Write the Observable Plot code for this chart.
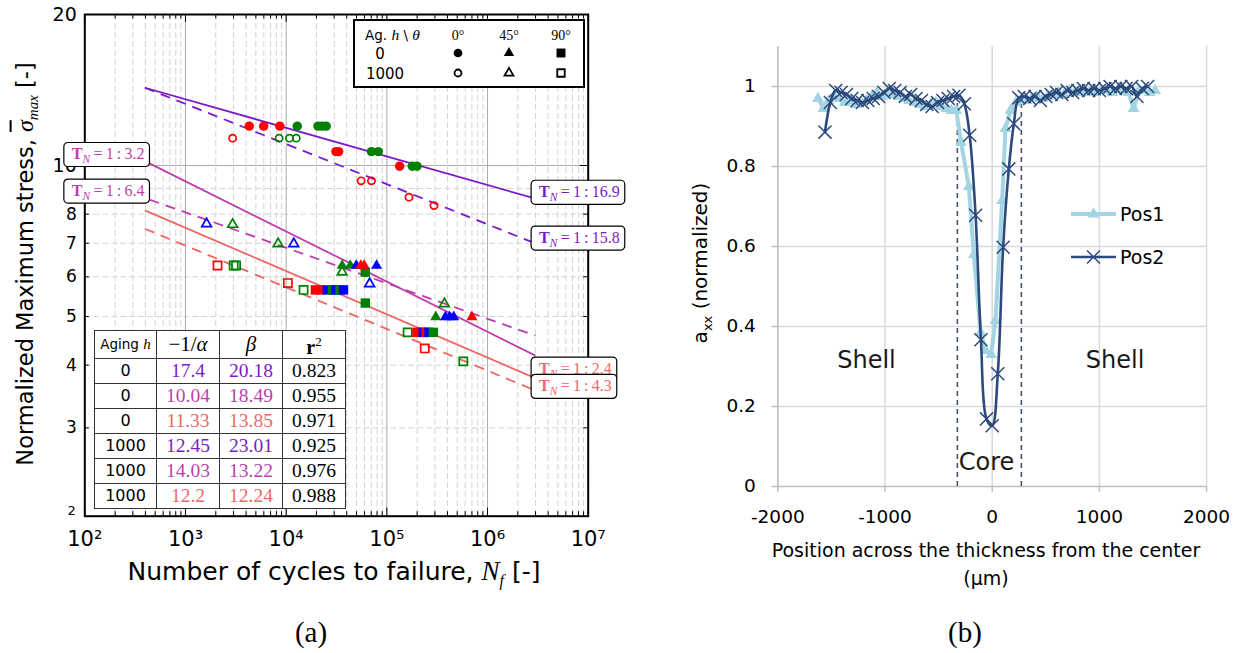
<!DOCTYPE html>
<html>
<head>
<meta charset="utf-8">
<script src="https://cdn.jsdelivr.net/npm/d3@7"></script>
<script src="https://cdn.jsdelivr.net/npm/@observablehq/plot@0.6"></script>
<style>
html,body{margin:0;padding:0;background:#fff;}
#root{position:relative;width:1242px;height:653px;overflow:hidden;font-family:"DejaVu Sans",sans-serif;color:#000;}
.abs{position:absolute;}
.serif{font-family:"Liberation Serif","DejaVu Serif",serif;}
#tbl{border-collapse:collapse;table-layout:fixed;background:#fff;}
#tbl td{border:1px solid #333;padding:0;text-align:center;height:24.1px;line-height:22px;overflow:hidden;white-space:nowrap;}
.lbl{position:absolute;white-space:nowrap;transform:translate(-50%,-50%);}
</style>
</head>
<body>
<div id="root"></div>
<script>
const root = document.getElementById("root");

// ---------------- colours ----------------
const PURPLE = "#7a1acb", MAGENTA = "#bd3fae", SALMON = "#ef6767";
const dotColors = {red: "#ff0000", green: "#008000", blue: "#0000ff"};

// ---------------- panel (a) data ----------------
const cycleTicks = [1e2, 1e3, 1e4, 1e5, 1e6, 1e7];
const cycleTickLabels = ["10²", "10³", "10⁴", "10⁵", "10⁶", "10⁷"];
const stressTicksLarge = [20, 10];
const stressTicksMedium = [8, 7, 6, 5, 4, 3];
const stressTicksSmall = [2];

// experimental points (cycles to failure, normalized max stress)
const pointN = [
  // open squares (1000 h, 90°)
  2080, 3010, 3180, 10400, 14900, 161000, 238000, 575000,
  // filled squares (0 h, 90°)
  19500, 22000, 25600, 28900, 31200, 34300, 37100, 61000, 61100, 199000, 215000, 230000, 245000, 262000, 290000,
  // open triangles (1000 h, 45°)
  1620, 2940, 8310, 11900, 36000, 67500, 373000,
  // filled triangles (0 h, 45°)
  36000, 43300, 49700, 55100, 59600, 79100, 306000, 382000, 420000, 462000, 700000,
  // open circles (1000 h, 0°)
  2940, 8510, 10800, 12600, 55500, 70300, 166000, 294000,
  // filled circles (0 h, 0°)
  4300, 5980, 8650, 12900, 20700, 22700, 25000, 31200, 33200, 70300, 82200, 134000, 179000, 199000
];
const pointStress = [
  6.32, 6.32, 6.32, 5.83, 5.65, 4.65, 4.32, 4.07,
  5.65, 5.65, 5.65, 5.65, 5.65, 5.65, 5.65, 6.13, 5.32, 4.65, 4.65, 4.65, 4.65, 4.65, 4.65,
  7.65, 7.63, 6.98, 6.98, 6.13, 5.81, 5.30,
  6.32, 6.32, 6.32, 6.32, 6.32, 6.32, 4.99, 4.99, 4.99, 4.99, 4.99,
  11.34, 11.34, 11.34, 11.34, 9.32, 9.32, 8.65, 8.32,
  11.98, 11.98, 11.98, 11.98, 11.98, 11.98, 11.98, 10.66, 10.66, 10.66, 10.66, 9.97, 9.97, 9.97
];
const pointColor = [
  "red", "green", "green", "red", "green", "green", "red", "green",
  "red", "red", "blue", "green", "blue", "green", "blue", "green", "green", "red", "red", "blue", "red", "blue", "green",
  "blue", "green", "green", "blue", "green", "blue", "green",
  "green", "green", "blue", "red", "red", "blue", "green", "blue", "blue", "blue", "red",
  "red", "green", "green", "green", "red", "red", "red", "red",
  "red", "red", "red", "green", "green", "green", "green", "red", "red", "green", "green", "red", "green", "green"
];
const pointShape = [].concat(
  Array(8).fill("square"), Array(15).fill("square"),
  Array(7).fill("triangle"), Array(11).fill("triangle"),
  Array(8).fill("circle"), Array(14).fill("circle")
);
const pointAging = [].concat(
  Array(8).fill(1000), Array(15).fill(0),
  Array(7).fill(1000), Array(11).fill(0),
  Array(8).fill(1000), Array(14).fill(0)
);

// fitted Basquin lines (end points)
const fitN1 = [395, 439, 395, 395, 439, 395];
const fitS1 = [14.29, 10.1, 8.14, 14.29, 8.55, 7.48];
const fitN2 = [2.71e6, 2.99e6, 2.71e6, 2.71e6, 2.99e6, 2.71e6];
const fitS2 = [8.64, 4.18, 3.8, 7.05, 4.58, 3.59];
const fitColor = [PURPLE, MAGENTA, SALMON, PURPLE, MAGENTA, SALMON];
const fitAging = [0, 0, 0, 1000, 1000, 1000];

// T_N annotation boxes
const labelText = ["1 : 3.2", "1 : 6.4", "1 : 16.9", "1 : 15.8", "1 : 2.4", "1 : 4.3"];
const labelN = [439, 439, 2.71e6, 2.71e6, 2.71e6, 2.71e6];
const labelS = [10.55, 8.92, 8.87, 7.19, 3.94, 3.64];
const labelColor = [MAGENTA, MAGENTA, PURPLE, PURPLE, SALMON, SALMON];
const labelSide = ["left", "left", "right", "right", "right", "right"];

// inset table
const tableHeader = ["Aging", "−1/α", "β", "r"];
const tableAging = ["0", "0", "0", "1000", "1000", "1000"];
const tableAlpha = ["17.4", "10.04", "11.33", "12.45", "14.03", "12.2"];
const tableBeta = ["20.18", "18.49", "13.85", "23.01", "13.22", "12.24"];
const tableR2 = ["0.823", "0.955", "0.971", "0.925", "0.976", "0.988"];
const tableColor = [PURPLE, MAGENTA, SALMON, PURPLE, MAGENTA, SALMON];

// marker legend
const legendAngles = ["0°", "45°", "90°"];
const legendAgingRows = ["0", "1000"];
const legendShapes = ["circle", "triangle", "square"];

// ---------------- panel (b) data ----------------
const posTicks = [-2000, -1000, 0, 1000, 2000];
const axxTicks = [0, 0.2, 0.4, 0.6, 0.8, 1];
const axxTickLabels = ["0", "0.2", "0.4", "0.6", "0.8", "1"];

const pos1X = [-1625,-1575,-1525,-1475,-1425,-1375,-1325,-1275,-1225,-1175,-1125,-1075,-1025,-975,-925,-875,-825,-775,-725,-675,-625,-575,-525,-475,-425,
  -380,-335,-290,-218,-171,-109,-60,-10,31,93,124,170,
  220,270,320,370,420,470,520,570,620,670,720,770,820,870,920,970,1020,1070,1120,1170,1220,1270,1320,1370,1420,1470,1520];
const pos1Y = [0.97,0.945,0.965,0.975,0.97,0.96,0.965,0.955,0.96,0.965,0.975,0.985,0.975,0.985,0.98,0.975,0.97,0.965,0.96,0.955,0.95,0.955,0.96,0.95,0.945,
  0.94,0.94,0.86,0.75,0.58,0.385,0.34,0.33,0.415,0.715,0.895,0.94,
  0.96,0.965,0.965,0.97,0.975,0.97,0.975,0.98,0.985,0.98,0.99,0.985,0.99,0.985,0.99,0.985,0.99,0.99,0.985,0.99,0.99,0.985,0.945,0.99,0.99,0.985,0.99];

const pos2X = [-1560,-1510,-1460,-1410,-1360,-1310,-1260,-1210,-1160,-1110,-1060,-1010,-960,-910,-860,-810,-760,-710,-660,-610,-560,-510,-460,-410,-360,-310,-260,-210,
  -155,-105,-53,0,52,102,155,202,248,
  300,350,400,450,500,550,600,650,700,750,800,850,900,950,1000,1050,1100,1150,1200,1250,1300,1350,1400,1450];
const pos2Y = [0.886,0.96,0.99,0.985,0.98,0.97,0.965,0.96,0.965,0.97,0.975,0.985,0.995,0.99,0.985,0.975,0.98,0.97,0.965,0.955,0.95,0.96,0.965,0.97,0.975,0.978,0.957,0.878,
  0.678,0.367,0.169,0.152,0.282,0.598,0.794,0.907,0.972,
  0.975,0.97,0.975,0.965,0.975,0.98,0.985,0.98,0.99,0.985,0.99,0.995,0.99,0.995,0.99,0.995,1.0,0.995,1.0,0.995,1.0,0.975,0.995,1.0];

const coreBounds = [-325, 272];
const coreTop = 0.975;
const regionText = ["Shell", "Shell", "Core"];
const regionX = [-1173, 1146, -53];
const regionY = [0.315, 0.315, 0.06];

// ================= PANEL (a) =================
const WA = 625, HA = 600;
const mLA = 84.3, mRA = WA - 587.7, mTA = 14, mBA = HA - 515.7;
const plotWA = WA - mLA - mRA, plotHA = HA - mTA - mBA;

const points = pointN.map((N, i) => ({N, S: pointStress[i], color: dotColors[pointColor[i]], shape: pointShape[i], aging: pointAging[i]}));
const sel = (shape, aging) => points.filter(p => p.shape === shape && p.aging === aging);
const fits = fitN1.map((n, i) => ({x1: n, y1: fitS1[i], x2: fitN2[i], y2: fitS2[i], color: fitColor[i], aging: fitAging[i]}));
const labels = labelText.map((t, i) => ({t, N: labelN[i], S: labelS[i], color: labelColor[i], side: labelSide[i]}));

const isDecade = v => Math.abs(Math.log10(v) - Math.round(Math.log10(v))) < 1e-9;
const allCycle = d3.scaleLog().domain([1e2, 1e7]).ticks();
const minorCycle = allCycle.filter(v => !isDecade(v));
const majorCycleInner = cycleTicks.slice(1, -1);
const minorStress = d3.scaleLog().domain([2, 20]).ticks().filter(v => v > 2 && v < 10);
const majorStress = [10];

const tickLenMaj = 8, tickLenMin = 4.5;

const chartA = Plot.plot({
  width: WA, height: HA,
  marginLeft: mLA, marginRight: mRA, marginTop: mTA, marginBottom: mBA,
  x: {type: "log", domain: [1e2, 1e7]},
  y: {type: "log", domain: [2, 20]},
  color: {type: "identity"},
  style: {fontFamily: "DejaVu Sans", fontSize: "16px", background: "transparent", color: "#000", overflow: "visible"},
  marks: [
    Plot.ruleX(minorCycle, {stroke: "#d4d4d4", strokeDasharray: "6,3", strokeWidth: 1}),
    Plot.ruleY(minorStress, {stroke: "#d4d4d4", strokeDasharray: "6,3", strokeWidth: 1}),
    Plot.ruleX(majorCycleInner, {stroke: "#ababab", strokeWidth: 1}),
    Plot.ruleY(majorStress, {stroke: "#ababab", strokeWidth: 1}),
    Plot.link(fits.filter(f => f.aging === 0), {x1: "x1", y1: "y1", x2: "x2", y2: "y2", stroke: "color", strokeWidth: 1.8}),
    Plot.link(fits.filter(f => f.aging === 1000), {x1: "x1", y1: "y1", x2: "x2", y2: "y2", stroke: "color", strokeWidth: 1.8, strokeDasharray: "10,7"}),
    Plot.dot(sel("square", 1000), {x: "N", y: "S", symbol: "square", r: 4.6, stroke: "color", fill: "none", strokeWidth: 1.7}),
    Plot.dot(sel("square", 0), {x: "N", y: "S", symbol: "square", r: 5.3, fill: "color", stroke: "none"}),
    Plot.dot(sel("triangle", 1000), {x: "N", y: "S", symbol: "triangle", r: 3.6, stroke: "color", fill: "none", strokeWidth: 1.7}),
    Plot.dot(sel("triangle", 0), {x: "N", y: "S", symbol: "triangle", r: 4.1, fill: "color", stroke: "none"}),
    Plot.dot(sel("circle", 1000), {x: "N", y: "S", symbol: "circle", r: 3.6, stroke: "color", fill: "none", strokeWidth: 1.7}),
    Plot.dot(sel("circle", 0), {x: "N", y: "S", symbol: "circle", r: 4.7, fill: "color", stroke: "none"}),
    // inward ticks on all four sides
    Plot.tickX(cycleTicks, {x: d => d, insetTop: plotHA - tickLenMaj, stroke: "#000"}),
    Plot.tickX(minorCycle, {x: d => d, insetTop: plotHA - tickLenMin, stroke: "#000"}),
    Plot.tickX(cycleTicks, {x: d => d, insetBottom: plotHA - tickLenMaj, stroke: "#000"}),
    Plot.tickX(minorCycle, {x: d => d, insetBottom: plotHA - tickLenMin, stroke: "#000"}),
    Plot.tickY(majorStress, {y: d => d, insetRight: plotWA - tickLenMaj, stroke: "#000"}),
    Plot.tickY(minorStress, {y: d => d, insetRight: plotWA - tickLenMin, stroke: "#000"}),
    Plot.tickY(majorStress, {y: d => d, insetLeft: plotWA - tickLenMaj, stroke: "#000"}),
    Plot.tickY(minorStress, {y: d => d, insetLeft: plotWA - tickLenMin, stroke: "#000"}),
    Plot.frame({stroke: "#000", strokeWidth: 2}),
    Plot.axisX({ticks: cycleTicks, tickFormat: d => cycleTickLabels[cycleTicks.indexOf(d)], tickSize: 0, tickPadding: 15, fontSize: 21, label: null}),
    Plot.axisY({ticks: stressTicksLarge, tickFormat: d => String(d), tickSize: 0, tickPadding: 8, fontSize: 19, label: null}),
    Plot.axisY({ticks: stressTicksMedium, tickFormat: d => String(d), tickSize: 0, tickPadding: 8, fontSize: 17, label: null}),
    Plot.axisY({ticks: stressTicksSmall, tickFormat: d => String(d), tickSize: 0, tickPadding: 9, fontSize: 13, dy: -5, label: null}),
    Plot.text(labels.filter(l => l.side === "left"), {x: "N", y: "S", text: "t", fill: "color", textAnchor: "end", dx: -5, fontSize: 16, fontFamily: "Liberation Serif"}),
    Plot.text(labels.filter(l => l.side === "right"), {x: "N", y: "S", text: "t", fill: "color", textAnchor: "start", dx: 8, fontSize: 16, fontFamily: "Liberation Serif"})
  ]
});
chartA.style.position = "absolute";
chartA.style.left = "0px";
chartA.style.top = "0px";
root.appendChild(chartA);

// turn "1 : x" into "T_N = 1 : x" and put rounded boxes behind
const labelSet = new Set(labelText);
Array.from(chartA.querySelectorAll("text")).filter(el => labelSet.has(el.textContent)).forEach(el => {
  const txt = el.textContent;
  const side = labelSide[labelText.indexOf(txt)];
  const t = d3.select(el);
  t.text("");
  t.append("tspan").attr("font-weight", "bold").text("T");
  t.append("tspan").attr("font-style", "italic").attr("font-size", "0.72em").attr("dy", "0.35em").text("N");
  t.append("tspan").attr("dy", "-0.25em").text("\u2009=\u2009" + txt.replace(/ : /, "\u2009:\u2009"));
  const bb = el.getBBox();
  const isEnd = side === "left";
  const padNear = isEnd ? 5 : 8, padFar = isEnd ? 8 : 5;
  const rect = document.createElementNS("http://www.w3.org/2000/svg", "rect");
  const x0 = isEnd ? bb.x - padFar : bb.x - padNear;
  rect.setAttribute("x", x0);
  rect.setAttribute("y", bb.y - 2.5);
  rect.setAttribute("width", bb.width + padNear + padFar);
  rect.setAttribute("height", bb.height + 4);
  rect.setAttribute("rx", 4);
  rect.setAttribute("fill", "#fff");
  rect.setAttribute("stroke", "#000");
  rect.setAttribute("stroke-width", 1.2);
  if (el.getAttribute("transform")) rect.setAttribute("transform", el.getAttribute("transform"));
  el.parentNode.insertBefore(rect, el);
});

// axis titles and caption of panel (a)
root.insertAdjacentHTML("beforeend",
  `<div class="lbl" style="left:27px;top:264px;font-size:22.5px;transform:translate(-50%,-50%) rotate(-90deg);">Normalized Maximum stress, <span class="serif" style="font-style:italic;font-size:24px;"><span style="text-decoration:overline;">σ</span><sub style="font-size:15px;">max</sub></span> [-]</div>
   <div class="lbl" style="left:334px;top:573px;font-size:25px;">Number of cycles to failure, <span class="serif" style="font-style:italic;font-size:27px;">N<sub style="font-size:16px;">f</sub></span> [-]</div>
   <div class="lbl serif" style="left:311px;top:632px;font-size:29px;">(a)</div>`);

// marker legend of panel (a)
{
  const lg = d3.create("svg").attr("width", 234).attr("height", 70)
    .style("position", "absolute").style("left", "353px").style("top", "19px");
  lg.append("rect").attr("x", 1).attr("y", 1).attr("width", 230).attr("height", 67)
    .attr("fill", "#fff").attr("stroke", "#000").attr("stroke-width", 2);
  const hdr = lg.append("text").attr("x", 12).attr("y", 21).attr("font-size", 13.5).attr("font-family", "DejaVu Sans");
  hdr.append("tspan").text("Ag. ");
  hdr.append("tspan").attr("font-family", "Liberation Serif").attr("font-style", "italic").attr("font-size", 15.5).text("h");
  hdr.append("tspan").text(" \\ ");
  hdr.append("tspan").attr("font-family", "Liberation Serif").attr("font-style", "italic").attr("font-size", 15.5).text("θ");
  const colX = [105, 156, 208];
  legendAngles.forEach((a, i) => lg.append("text").attr("x", colX[i]).attr("y", 21).attr("text-anchor", "middle")
    .attr("font-family", "Liberation Serif").attr("font-size", 14).text(a));
  const rowY = [34, 54];
  legendAgingRows.forEach((r, j) => lg.append("text").attr("x", j === 0 ? 27 : 32).attr("y", rowY[j] + 5.5)
    .attr("text-anchor", "middle").attr("font-family", "DejaVu Sans").attr("font-size", 15).text(r));
  const symType = {circle: d3.symbolCircle, triangle: d3.symbolTriangle, square: d3.symbolSquare};
  const filledSize = {circle: 60, triangle: 46, square: 80};
  const openSize = {circle: 38, triangle: 34, square: 56};
  legendShapes.forEach((s, i) => {
    lg.append("path").attr("transform", `translate(${colX[i]},${rowY[0]})`)
      .attr("d", d3.symbol(symType[s], filledSize[s])()).attr("fill", "#000");
    lg.append("path").attr("transform", `translate(${colX[i]},${rowY[1]})`)
      .attr("d", d3.symbol(symType[s], openSize[s])()).attr("fill", "none").attr("stroke", "#000").attr("stroke-width", 1.8);
  });
  root.appendChild(lg.node());
}

// inset table of panel (a)
{
  const colW = [62, 63, 63, 63];
  let html = `<table id="tbl" class="abs" style="left:94px;top:330px;width:252px;"><colgroup>${colW.map(w => `<col style="width:${w}px">`).join("")}</colgroup>`;
  html += `<tr><td style="font-size:13.5px;">${tableHeader[0]} <span class="serif" style="font-style:italic;font-size:15px;">h</span></td>
    <td class="serif" style="font-size:21px;">${tableHeader[1].replace("α", "<i>α</i>")}</td>
    <td class="serif" style="font-size:21px;"><i>${tableHeader[2]}</i></td>
    <td class="serif" style="font-size:20px;"><b>${tableHeader[3]}</b><sup style="font-size:13px;">2</sup></td></tr>`;
  tableAging.forEach((a, i) => {
    html += `<tr><td style="font-size:16px;">${a}</td>
      <td class="serif" style="font-size:19.5px;color:${tableColor[i]}">${tableAlpha[i]}</td>
      <td class="serif" style="font-size:19.5px;color:${tableColor[i]}">${tableBeta[i]}</td>
      <td class="serif" style="font-size:19.5px;">${tableR2[i]}</td></tr>`;
  });
  html += `</table>`;
  root.insertAdjacentHTML("beforeend", html);
}

// ================= PANEL (b) =================
const LB = 690, WB = 1242 - LB, HB = 600;
const mLB = 777.3 - LB, mRB = 1242 - 1206.1, mTB = 46, mBB = HB - 486;
const plotWB = WB - mLB - mRB, plotHB = HB - mTB - mBB;
const pos1 = pos1X.map((x, i) => ({x, y: pos1Y[i]}));
const pos2 = pos2X.map((x, i) => ({x, y: pos2Y[i]}));
const regions = regionText.map((t, i) => ({t, x: regionX[i], y: regionY[i]}));
const POS1C = "#a3d4e3", POS2C = "#2d4a7c", AXC = "#bfbfbf", GRIDC = "#d9d9d9";

const chartB = Plot.plot({
  width: WB, height: HB,
  marginLeft: mLB, marginRight: mRB, marginTop: mTB, marginBottom: mBB,
  x: {domain: [-2000, 2000]},
  y: {domain: [0, 1.1]},
  style: {fontFamily: "DejaVu Sans", fontSize: "18px", background: "transparent", color: "#000", overflow: "visible"},
  marks: [
    Plot.ruleX(posTicks, {stroke: GRIDC, strokeWidth: 1.5}),
    Plot.ruleY(axxTicks.filter(v => v > 0), {stroke: GRIDC, strokeWidth: 1.5}),
    Plot.ruleX([posTicks[0]], {stroke: AXC, strokeWidth: 1.5}),
    Plot.ruleY([0], {stroke: AXC, strokeWidth: 1.5}),
    Plot.tickX(posTicks, {x: d => d, insetTop: plotHB, insetBottom: -6, stroke: AXC, strokeWidth: 1.5}),
    Plot.tickY(axxTicks, {y: d => d, insetRight: plotWB, insetLeft: -6, stroke: AXC, strokeWidth: 1.5}),
    Plot.ruleX(coreBounds, {x: d => d, y1: 0, y2: coreTop, stroke: "#44546a", strokeWidth: 1.6, strokeDasharray: "5,4"}),
    Plot.line(pos1, {x: "x", y: "y", stroke: POS1C, strokeWidth: 4}),
    Plot.dot(pos1, {x: "x", y: "y", symbol: "triangle", r: 4.4, fill: POS1C, stroke: "none"}),
    Plot.line(pos2, {x: "x", y: "y", stroke: POS2C, strokeWidth: 2.6, curve: "catmull-rom"}),
    Plot.dot(pos2, {x: "x", y: "y", symbol: "times", r: 6, stroke: POS2C, strokeWidth: 1.5}),
    Plot.text(regions, {x: "x", y: "y", text: "t", fontSize: 24, fill: "#1a1a1a"}),
    Plot.axisX({ticks: posTicks, tickFormat: d => String(d), tickSize: 0, tickPadding: 23, fontSize: 18.5, label: null}),
    Plot.axisY({ticks: axxTicks, tickFormat: d => axxTickLabels[axxTicks.indexOf(d)], tickSize: 0, tickPadding: 22, fontSize: 18.5, label: null})
  ]
});
chartB.style.position = "absolute";
chartB.style.left = LB + "px";
chartB.style.top = "0px";
root.appendChild(chartB);

// legend of panel (b)
{
  const lg = d3.create("svg").attr("width", 130).attr("height", 90)
    .style("position", "absolute").style("left", "1060px").style("top", "192px");
  const rows = [{name: "Pos1", y: 22, c: POS1C, w: 4, sym: d3.symbolTriangle, size: 60, fill: true},
                {name: "Pos2", y: 65, c: POS2C, w: 2.6, sym: d3.symbolTimes, size: 110, fill: false}];
  rows.forEach(r => {
    lg.append("line").attr("x1", 11).attr("x2", 56).attr("y1", r.y).attr("y2", r.y).attr("stroke", r.c).attr("stroke-width", r.w);
    const p = lg.append("path").attr("transform", `translate(33.5,${r.y})`).attr("d", d3.symbol(r.sym, r.size)());
    if (r.fill) p.attr("fill", r.c); else p.attr("fill", "none").attr("stroke", r.c).attr("stroke-width", 1.5);
    lg.append("text").attr("x", 60).attr("y", r.y + 7).attr("font-family", "DejaVu Sans").attr("font-size", 19).text(r.name);
  });
  root.appendChild(lg.node());
}

root.insertAdjacentHTML("beforeend",
  `<div class="lbl" style="left:701px;top:263px;font-size:20px;transform:translate(-50%,-50%) rotate(-90deg);">a<sub style="font-size:13px;">xx</sub> (normalized)</div>
   <div class="lbl" style="left:986px;top:550px;font-size:19px;">Position across the thickness from the center</div>
   <div class="lbl" style="left:986px;top:578px;font-size:19px;">(µm)</div>
   <div class="lbl serif" style="left:965px;top:632px;font-size:29px;">(b)</div>`);
</script>
</body>
</html>
